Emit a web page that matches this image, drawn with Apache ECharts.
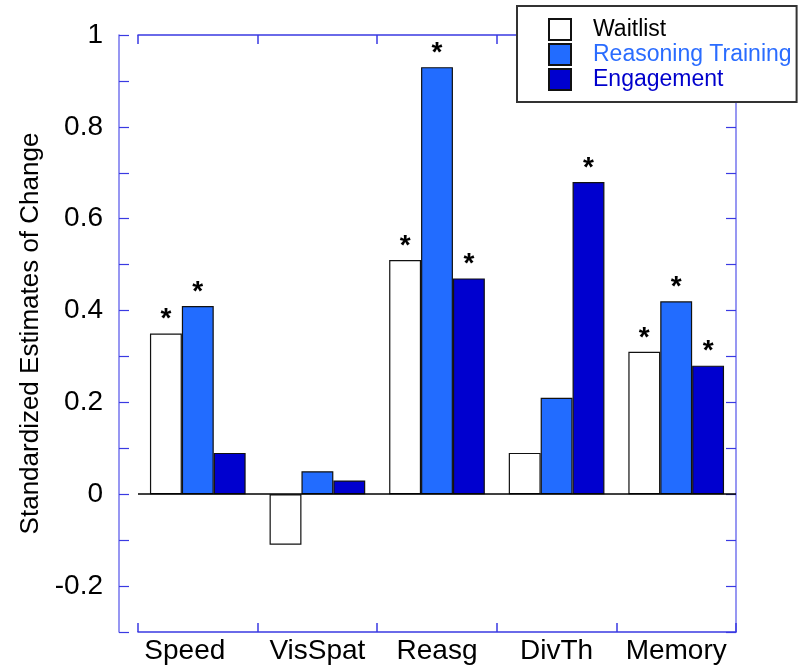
<!DOCTYPE html>
<html>
<head>
<meta charset="utf-8">
<script src="https://cdn.jsdelivr.net/npm/echarts@6/dist/echarts.min.js"></script>
<style>
  html, body { margin: 0; padding: 0; background: #fff; }
  #chart { width: 798px; height: 667px; }
</style>
</head>
<body>
<div id="chart"></div>
<script>
// Cognitive domains on the x axis
const categories = ['Speed', 'VisSpat', 'Reasg', 'DivTh', 'Memory'];

// Standardized estimates of change per group
const waitlist   = [0.35, -0.11, 0.51, 0.09, 0.31];
const reasoning  = [0.41,  0.05, 0.93, 0.21, 0.42];
const engagement = [0.09,  0.03, 0.47, 0.68, 0.28];

// Significant change flags (drawn as an asterisk above the bar)
const waitlistSig   = [true,  false, true, false, true];
const reasoningSig  = [true,  false, true, false, true];
const engagementSig = [false, false, true, true,  true];

// Labelled y ticks
const yTickValues = [-0.2, 0, 0.2, 0.4, 0.6, 0.8, 1];
const yTickLabels = ['-0.2', '0', '0.2', '0.4', '0.6', '0.8', '1'];

const FONT = "'Liberation Sans', Arial, Helvetica, sans-serif";
const AXIS_BLUE = '#3a3ae2';
const AXIS_LIGHT = '#7474ee';

function withStars(values, flags) {
  return values.map((v, i) => ({
    value: v,
    label: { show: flags[i] }
  }));
}

const starLabel = {
  show: false,
  position: 'top',
  distance: 0,
  formatter: '*',
  fontFamily: FONT,
  fontSize: 28,
  fontWeight: 'bold',
  color: '#000'
};

const chart = echarts.init(document.getElementById('chart'), null, { renderer: 'canvas' });

chart.setOption({
  animation: false,
  backgroundColor: '#fff',
  textStyle: { fontFamily: FONT },
  grid: { left: 138, right: 62, top: 35, bottom: 35, containLabel: false },
  legend: {
    orient: 'vertical',
    left: 517,
    top: 6,
    backgroundColor: '#fff',
    borderColor: '#333',
    borderWidth: 2,
    borderRadius: 0,
    padding: [12, 5, 11, 31],
    itemWidth: 22,
    itemHeight: 21,
    itemGap: 2,
    icon: 'rect',
    selectedMode: false,
    textStyle: { fontFamily: FONT, fontSize: 23, lineHeight: 21, padding: [0, 0, 0, 17] },
    data: [
      { name: 'Waitlist', textStyle: { color: '#000' } },
      { name: 'Reasoning Training', textStyle: { color: '#2a6cff' } },
      { name: 'Engagement', textStyle: { color: '#0000cc' } }
    ]
  },
  xAxis: [
    {
      type: 'category',
      position: 'bottom',
      data: categories.map((c, i) => i === 0
        ? { value: c, textStyle: { padding: [0, 26, 0, 0] } }
        : c),
      boundaryGap: true,
      axisLine: { show: true, onZero: false, lineStyle: { color: AXIS_BLUE, width: 1.5 } },
      axisTick: { show: true, inside: true, length: 9, interval: 0, lineStyle: { color: AXIS_BLUE, width: 1.5 } },
      axisLabel: { fontFamily: FONT, fontSize: 28, color: '#000', margin: 5, interval: 0, hideOverlap: false },
      splitLine: { show: false }
    },
    {
      type: 'category',
      position: 'top',
      data: categories,
      boundaryGap: true,
      axisLine: { show: true, onZero: false, lineStyle: { color: AXIS_BLUE, width: 1.5 } },
      axisTick: { show: true, inside: true, length: 9, interval: 0, lineStyle: { color: AXIS_BLUE, width: 1.5 } },
      axisLabel: { show: false },
      splitLine: { show: false }
    }
  ],
  yAxis: [
    {
      type: 'value',
      position: 'left',
      offset: 19,
      min: -0.3,
      max: 1,
      interval: 0.1,
      name: 'Standardized Estimates of Change',
      nameLocation: 'middle',
      nameGap: 66,
      nameTextStyle: { fontFamily: FONT, fontSize: 26, color: '#000' },
      axisLine: { show: true, onZero: false, lineStyle: { color: AXIS_LIGHT, width: 1.5 } },
      axisTick: { show: true, inside: true, length: 10, lineStyle: { color: AXIS_BLUE, width: 1.2 } },
      axisLabel: {
        fontFamily: FONT,
        fontSize: 28,
        color: '#000',
        margin: 16,
        showMinLabel: true,
        showMaxLabel: true,
        formatter: v => {
          const idx = yTickValues.findIndex(t => Math.abs(t - v) < 1e-9);
          return idx >= 0 ? yTickLabels[idx] : '';
        }
      },
      splitLine: { show: false }
    },
    {
      type: 'value',
      position: 'right',
      min: -0.3,
      max: 1,
      interval: 0.1,
      axisLine: { show: true, onZero: false, lineStyle: { color: AXIS_LIGHT, width: 1.5 } },
      axisTick: { show: true, inside: true, length: 10, lineStyle: { color: AXIS_BLUE, width: 1.2 } },
      axisLabel: { show: false },
      splitLine: { show: false }
    }
  ],
  series: [
    {
      name: 'Waitlist',
      type: 'bar',
      barGap: '0%',
      barCategoryGap: '20%',
      data: withStars(waitlist, waitlistSig),
      itemStyle: { color: '#ffffff', borderColor: '#111', borderWidth: 1.2 },
      label: starLabel,
      markLine: {
        silent: true,
        symbol: 'none',
        label: { show: false },
        lineStyle: { color: '#000', type: 'solid', width: 1.5 },
        data: [{ yAxis: 0 }]
      }
    },
    {
      name: 'Reasoning Training',
      type: 'bar',
      barGap: '0%',
      barCategoryGap: '20%',
      data: withStars(reasoning, reasoningSig),
      itemStyle: { color: '#226cff', borderColor: '#111', borderWidth: 1.2 },
      label: starLabel
    },
    {
      name: 'Engagement',
      type: 'bar',
      barGap: '0%',
      barCategoryGap: '20%',
      data: withStars(engagement, engagementSig),
      itemStyle: { color: '#0000cf', borderColor: '#111', borderWidth: 1.2 },
      label: starLabel
    }
  ]
});
</script>
</body>
</html>
